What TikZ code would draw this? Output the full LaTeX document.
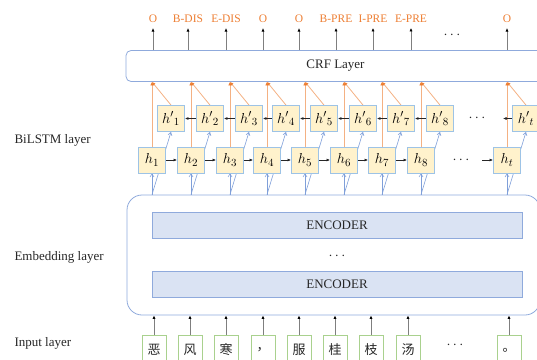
\documentclass[tikz,border=0pt]{standalone}
\usepackage{fontspec}
\setmainfont{Liberation Serif}
\newfontfamily\cjk{Noto Sans CJK SC}
\usetikzlibrary{arrows.meta}
\definecolor{hfill}{HTML}{FFF2CC}
\definecolor{hline}{HTML}{9DC3E6}
\definecolor{encfill}{HTML}{DAE3F3}
\definecolor{encline}{HTML}{8FAADC}
\definecolor{frameline}{HTML}{8FAADC}
\definecolor{tagorange}{HTML}{ED7D31}
\definecolor{linkorange}{HTML}{F4B183}
\definecolor{linkblue}{HTML}{7F9FD9}
\definecolor{inputgreen}{HTML}{A9D18E}
\definecolor{ink}{HTML}{262626}
\definecolor{stem}{HTML}{7F7F7F}
\pgfdeclarelayer{bg}
\pgfsetlayers{bg,main}
\tikzset{
  txt/.style={font=\fontsize{13}{15}\selectfont, text=ink},
  hbox/.style={draw=hline, fill=hfill, line width=0.8pt, minimum width=27pt, minimum height=26pt, inner sep=0pt, font=\fontsize{15}{17}\selectfont},
  inbox/.style={draw=inputgreen, fill=white, line width=0.8pt, minimum width=24pt, minimum height=30pt, inner sep=0pt, font=\cjk\fontsize{13}{15}\selectfont, text=ink},
  encbox/.style={draw=encline, fill=encfill, line width=0.8pt, minimum width=370pt, minimum height=26pt, inner sep=0pt, txt},
  tag/.style={font=\fontsize{11.5}{13}\selectfont, text=tagorange, inner sep=1pt},
  blk/.style={-{Latex[length=3.5pt,width=3pt]}, line width=0.7pt, draw=ink},
  grayup/.style={-{Latex[length=3.5pt,width=3.2pt,color=black]}, line width=1pt, draw=stem},
  bluearr/.style={-{Straight Barb[length=3pt,width=4pt]}, line width=0.6pt, draw=linkblue},
  orarr/.style={-{Latex[length=3.5pt,width=3.5pt,color=tagorange]}, line width=0.8pt, draw=linkorange},
  dotsnode/.style={inner sep=0pt, font=\fontsize{14}{16}\selectfont, text=ink}
}
\begin{document}
\begin{tikzpicture}[x=1pt,y=-1pt]
\useasboundingbox (0,0) rectangle (537,359);

% layer labels
\node[txt, anchor=west] (lbil) at (11,140) {BiLSTM layer};
\node[txt, anchor=west] (lemb) at (11,257) {Embedding layer};
\node[txt, anchor=west] (linp) at (11,343) {Input layer};

% CRF layer
\node[draw=frameline, line width=0.8pt, rounded corners=5pt, minimum width=419pt, minimum height=31pt, txt] (crf) at (335.5,66) {CRF Layer};

% output tags
\foreach \i/\x/\t in {1/153/O,2/188/B-DIS,3/226/E-DIS,4/263/O,5/299/O,6/336/B-PRE,7/373/I-PRE,8/411/E-PRE,9/507/O}
  \node[tag] (o\i) at (\x,19) {\t};
\node[dotsnode] (odots) at (452,35) {$\cdots$};
\foreach \i in {1,...,9}
  \draw[grayup] (o\i |- crf.north) -- ([yshift=-4pt]o\i.south);

% forward LSTM states
\foreach \i/\x in {1/152,2/191,3/230,4/267,5/305,6/344,7/382,8/421}
  \node[hbox] (h\i) at (\x,160) {$h_{\i}$};
\node[hbox] (ht) at (507,160) {$h_{t}$};
\node[dotsnode] (hdots) at (461,160) {$\cdots$};
\coordinate (hdotsend) at (482,160);

% backward LSTM states
\foreach \i/\x in {1/171,2/210,3/249,4/286,5/324,6/363,7/401,8/440}
  \node[hbox] (g\i) at (\x,118.5) {${h'}_{\i}$};
\node[hbox] (gt) at (526,118.5) {${h'}_{t}$};
\node[dotsnode] (gdots) at (477,118.5) {$\cdots$};
\coordinate (gdotsend) at (503,118.5);

% recurrent links
\foreach \a/\b in {1/2,2/3,3/4,4/5,5/6,6/7,7/8}
  \draw[blk] (h\a.east) -- (h\b.west);
\draw[blk] (hdotsend) -- (ht.west);
\foreach \a/\b in {2/1,3/2,4/3,5/4,6/5,7/6,8/7}
  \draw[blk] (g\a.west) -- (g\b.east);
\draw[blk] (gt.west) -- (gdotsend);

% embedding block
\node[draw=frameline, line width=0.8pt, rounded corners=15pt, minimum width=413pt, minimum height=120pt] (emb) at (333.5,255) {};
\node[encbox] (enc1) at (337,225) {ENCODER};
\node[dotsnode] (edots) at (337,256) {$\cdots$};
\node[encbox] (enc2) at (337,284.5) {ENCODER};

% input tokens
\foreach \i/\x/\c in {1/154/恶,2/190/风,3/226/寒,4/263/，,5/299/服,6/335/桂,7/371/枝,8/408/汤,9/509/。}
  \node[inbox] (w\i) at (\x,350) {\c};
\node[dotsnode] (wdots) at (455,345) {$\cdots$};
\foreach \i in {1,...,9}
  \draw[grayup] (w\i.north) -- (w\i |- emb.south);

% links between layers, kept behind the boxes
\begin{pgfonlayer}{bg}
\foreach \i in {1,...,8,t} {
  \coordinate (eb\i) at (h\i |- emb.north);
  \coordinate (cb\i) at (h\i |- crf.south);
  \draw[bluearr] (eb\i) -- (h\i.south);
  \draw[bluearr] (eb\i) -- (g\i.south);
  \draw[orarr] (h\i.north) -- (cb\i);
  \draw[orarr] (g\i.north) -- (cb\i);
}
\end{pgfonlayer}
\end{tikzpicture}
\end{document}
